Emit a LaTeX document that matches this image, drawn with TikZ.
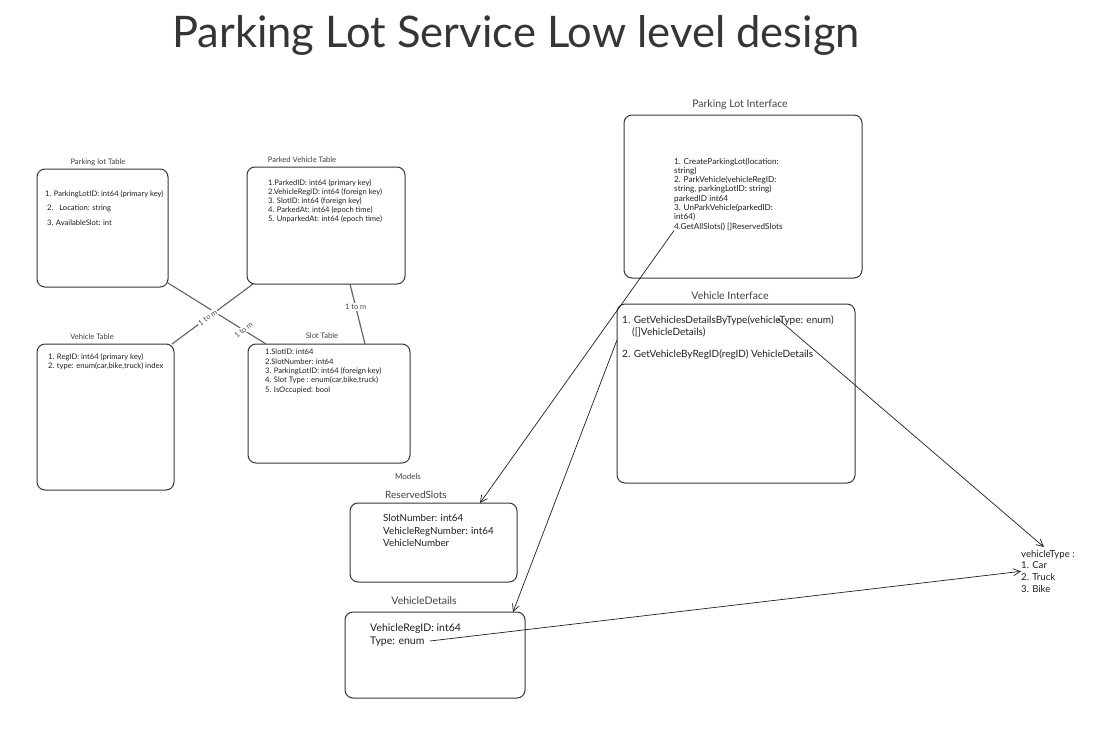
\documentclass[tikz,border=0pt]{standalone}
\usepackage{fontspec}
\setmainfont{Lato}
\usetikzlibrary{arrows.meta}
\definecolor{inkgray}{HTML}{1E1E1E}
\tikzset{%
    tablebox/.style={draw=inkgray!90,line width=1pt,rounded corners=8pt,inner sep=0pt,outer sep=0pt,anchor=north west},
    boxtitle/.style={inner sep=0pt,text=inkgray!85},
    fieldtext/.style={align=left,anchor=north west,inner sep=0pt,text=inkgray},
    relation/.style={draw=inkgray!70,line width=1.1pt},
    multiplicity/.style={fill=white,inner sep=1pt,font=\fontsize{7.5}{9}\selectfont,text=inkgray!80},
    usage/.style={draw=inkgray,line width=0.7pt,-{Straight Barb[length=7pt,width=7pt]}},
}

\begin{document}
\begin{tikzpicture}[x=1pt,y=-1pt]
        \useasboundingbox (0,0) rectangle (1098,731);
        \node[text=inkgray!90,font=\fontsize{43.5}{50}\selectfont] (title) at (516,35) {Parking Lot Service Low level design};

        % database tables
        \node[tablebox,minimum width=131pt,minimum height=118pt] (lottable) at (37,169) {};
        \node[boxtitle,font=\fontsize{7.6}{9}\selectfont] (lottitle) at (98,162) {Parking lot Table};
        \node[fieldtext,font=\fontsize{7.6}{14.5}\selectfont] (lotfields) at (45,190) {1. ParkingLotID: int64 (primary key)\\\hspace*{2pt}2.\hspace*{4pt} Location: string\\\hspace*{2pt}3. AvailableSlot: int};

        \node[tablebox,minimum width=158pt,minimum height=117pt] (parkedtable) at (247,167) {};
        \node[boxtitle,font=\fontsize{7.6}{9}\selectfont] (parkedtitle) at (302,160) {Parked Vehicle Table};
        \node[fieldtext,font=\fontsize{7.6}{9.1}\selectfont] (parkedfields) at (268,179) {1.ParkedID: int64 (primary key)\\2.VehicleRegID: int64 (foreign key)\\3. SlotID: int64 (foreign key)\\4. ParkedAt: int64 (epoch time)\\5. UnparkedAt: int64 (epoch time)};

        \node[tablebox,minimum width=137pt,minimum height=146pt] (vehtable) at (37,344) {};
        \node[boxtitle,font=\fontsize{7.6}{9}\selectfont] (vehtitle) at (92,337) {Vehicle Table};
        \node[fieldtext,font=\fontsize{7.6}{9.2}\selectfont] (vehfields) at (48,353) {1. RegID: int64 (primary key)\\2. type: enum(car,bike,truck) index};

        \node[tablebox,minimum width=162pt,minimum height=119pt] (slottable) at (248,344) {};
        \node[boxtitle,font=\fontsize{7.6}{9}\selectfont] (slottitle) at (322,336) {Slot Table};
        \node[fieldtext,font=\fontsize{7.6}{9.3}\selectfont] (slotfields) at (265,349) {1.SlotID: int64\\2.SlotNumber: int64\\3. ParkingLotID: int64 (foreign key)\\4. Slot Type : enum(car,bike,truck)\\5. IsOccupied: bool};

        \draw[relation] ([yshift=4pt]lottable.south east) -- node[multiplicity,pos=0.77,rotate=40] {1 to m} ([xshift=18pt]slottable.north west);
        \draw[relation] ([xshift=6pt]parkedtable.south west) -- node[multiplicity,pos=0.56,rotate=36] {1 to m} ([xshift=-2pt]vehtable.north east);
        \draw[relation] ([xshift=103pt]parkedtable.south west) -- node[multiplicity,pos=0.38] {1 to m} ([xshift=117pt]slottable.north west);

        % interfaces
        \node[tablebox,minimum width=238pt,minimum height=163pt] (lotiface) at (624,115) {};
        \node[boxtitle,font=\fontsize{10.5}{12}\selectfont] (lotifacetitle) at (740,105) {Parking Lot Interface};
        \node[fieldtext,font=\fontsize{8.2}{9.3}\selectfont] (lotifacefields) at (674,157.5) {1. CreateParkingLot(location:\\string)\\2. ParkVehicle(vehicleRegID:\\string, parkingLotID: string)\\parkedID int64\\3. UnParkVehicle(parkedID:\\int64)\\4.GetAllSlots() []ReservedSlots};

        \node[tablebox,minimum width=238pt,minimum height=179pt] (vehiface) at (617,304) {};
        \node[boxtitle,font=\fontsize{10.5}{12}\selectfont] (vehifacetitle) at (730,296) {Vehicle Interface};
        \node[fieldtext,font=\fontsize{10}{12.5}\selectfont] (vehifacefields) at (622,315.5) {1. GetVehiclesDetailsByType(vehicleType: enum)\\\hspace*{10pt}([]VehicleDetails)\\[9.5pt]2. GetVehicleByRegID(regID) VehicleDetails};
        \coordinate (vtword) at (778,319);

        % models
        \node[boxtitle,font=\fontsize{8}{10}\selectfont] (modelstitle) at (408,477) {Models};

        \node[tablebox,minimum width=167pt,minimum height=79pt] (rsbox) at (350,503) {};
        \node[boxtitle,font=\fontsize{10}{12}\selectfont] (rstitle) at (416,495) {ReservedSlots};
        \node[fieldtext,font=\fontsize{9.8}{12.5}\selectfont] (rsfields) at (383,514.5) {SlotNumber: int64\\VehicleRegNumber: int64\\VehicleNumber};

        \node[tablebox,minimum width=180pt,minimum height=86pt] (vdbox) at (345,612) {};
        \node[boxtitle,font=\fontsize{10.5}{12}\selectfont] (vdtitle) at (424,601) {VehicleDetails};
        \node[fieldtext,font=\fontsize{10.5}{12.8}\selectfont] (vdfields) at (370,623.5) {VehicleRegID: int64\\Type: enum};
        \coordinate (typeenum) at (430,641);

        \node[fieldtext,font=\fontsize{9.6}{11.7}\selectfont] (vtype) at (1021,550) {vehicleType :\\1. Car\\2. Truck\\3. Bike};

        % usages
        \draw[usage] (lotifacefields.south west) -- ([xshift=130pt]rsbox.north west);
        \draw[usage] ([yshift=-36pt]vehiface.north west) -- ([xshift=168pt]vdbox.north west);
        \draw[usage] (vtword) -- ([xshift=-4pt,yshift=3pt]vtype.north);
        \draw[usage] (typeenum) -- (vtype.west);
    \end{tikzpicture}
\end{document}
